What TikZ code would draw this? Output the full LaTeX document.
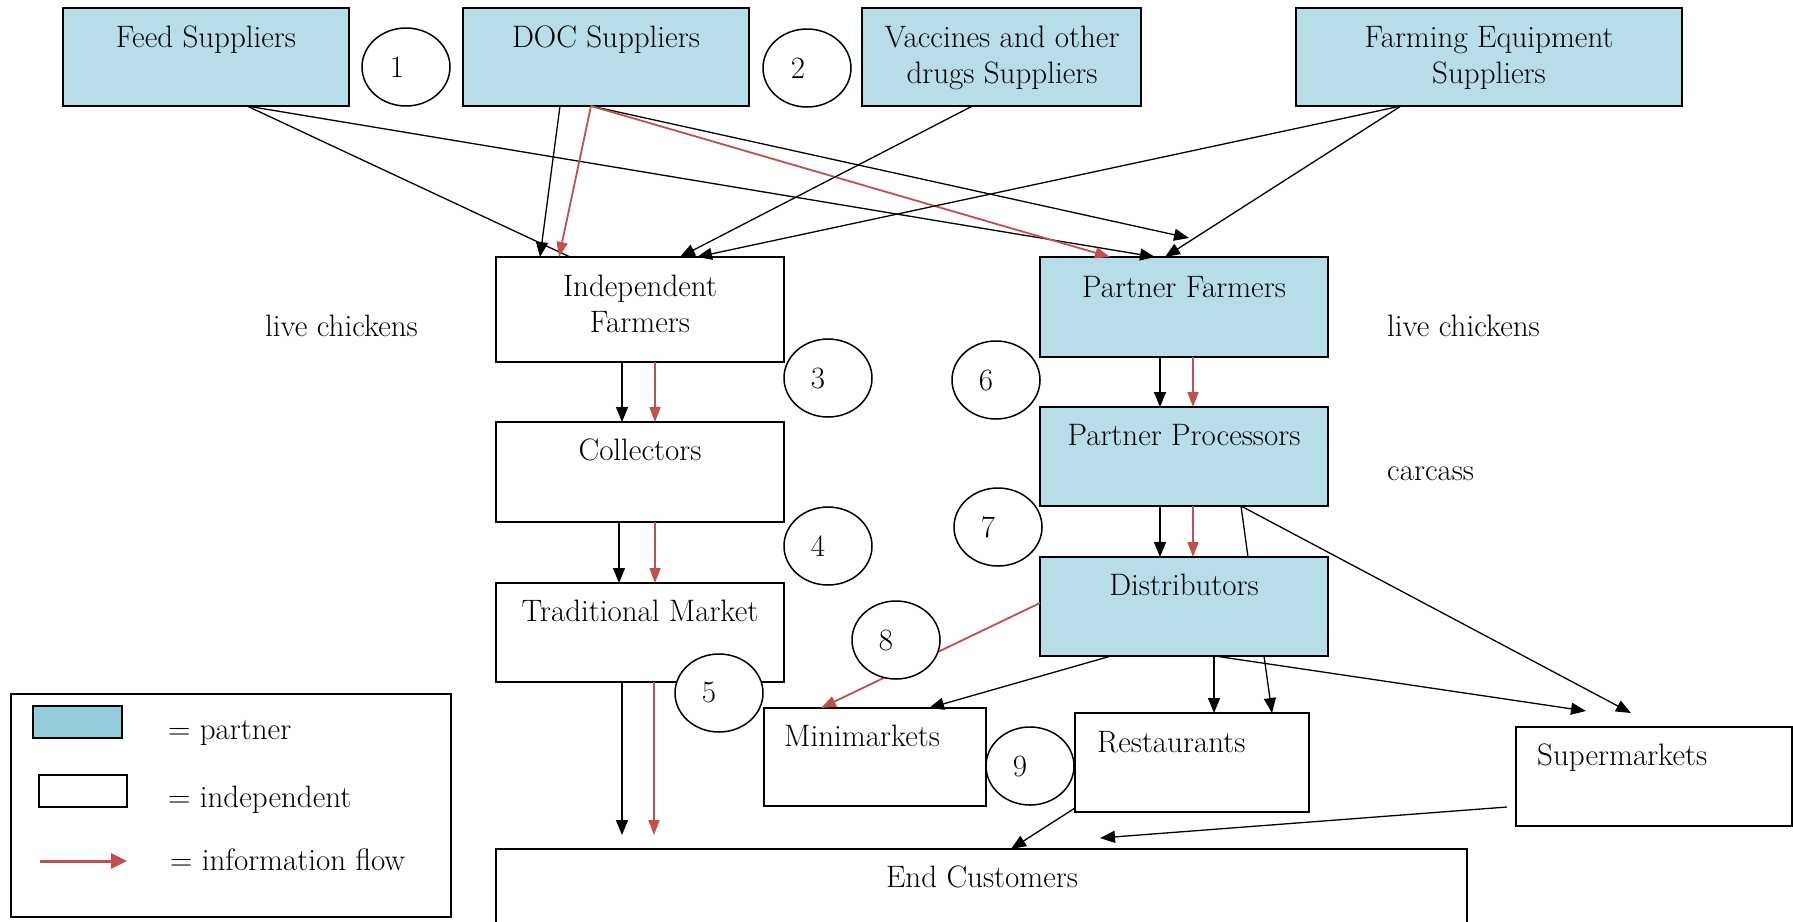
\documentclass[tikz,border=0pt]{standalone}
\usetikzlibrary{arrows.meta,shapes.geometric,calc}
\definecolor{pfill}{HTML}{B7DDE8}
\definecolor{lfill}{HTML}{93CDDD}
\definecolor{infored}{HTML}{C0504D}
\newcommand\mybox[6]{\node[#1, anchor=north west, minimum width={#5-#3}, minimum height={#6-#4}] (#2) at (#3,#4) {};}
\begin{document}
\begin{tikzpicture}[x=1pt,y=-1pt,
  font=\fontsize{31}{36}\selectfont,
  pbox/.style={draw, line width=2pt, fill=pfill, inner sep=0pt, outer sep=0pt},
  ibox/.style={draw, line width=2pt, fill=white, inner sep=0pt, outer sep=0pt},
  lbox/.style={draw, line width=2pt, fill=lfill, inner sep=0pt, outer sep=0pt},
  num/.style={ellipse, draw, line width=1.5pt, fill=white, minimum width=88pt, minimum height=78pt, inner sep=0pt},
  txt/.style={anchor=base, inner sep=0pt, align=center},
  ltxt/.style={anchor=base west, inner sep=0pt},
  arr/.style={line width=1.3pt, -{Triangle[length=15pt,width=12pt]}},
  pline/.style={line width=1.3pt},
  rarr/.style={line width=1.8pt, infored, -{Triangle[length=15pt,width=11pt]}}
]
\useasboundingbox (0,0) rectangle (1793,921);
\clip (0,0) rectangle (1793,921);

% boxes
\mybox{pbox}{feed}{63}{8}{349}{106}
\mybox{pbox}{doc}{463}{8}{749}{106}
\mybox{pbox}{vac}{862}{8}{1141}{106}
\mybox{pbox}{farm}{1296}{8}{1682}{106}
\mybox{ibox}{indep}{496}{257}{784}{362}
\mybox{pbox}{pfarm}{1040}{257}{1328}{357}
\mybox{ibox}{coll}{496}{422}{784}{522}
\mybox{pbox}{pproc}{1040}{407}{1328}{506}
\mybox{ibox}{trad}{496}{583}{784}{682}
\mybox{pbox}{dist}{1040}{557}{1328}{656}
\mybox{ibox}{mini}{764}{708}{986}{806}
\mybox{ibox}{rest}{1075}{713}{1309}{812}
\mybox{ibox}{super}{1516}{727}{1792}{826}
\mybox{ibox}{end}{496}{849}{1467}{960}
\mybox{ibox}{legend}{11}{694}{451}{917}

% box texts (multi-line nodes: base = last line)
\node[txt] (feedT) at (206,47) {Feed Suppliers};
\node[txt] (docT) at (606,47) {DOC Suppliers};
\node[txt] (vacT) at (1002,83) {Vaccines and other\\drugs Suppliers};
\node[txt] (farmT) at (1489,83) {Farming Equipment\\Suppliers};
\node[txt] (indepT) at (640,332) {Independent\\Farmers};
\node[txt] (pfarmT) at (1184,297) {Partner Farmers};
\node[txt] (collT) at (640,460) {Collectors};
\node[txt] (pprocT) at (1184,445) {Partner Processors};
\node[txt] (tradT) at (640,621) {Traditional Market};
\node[txt] (distT) at (1184,595) {Distributors};
\node[ltxt] (miniT) at (784,746) {Minimarkets};
\node[ltxt] (restT) at (1097,752) {Restaurants};
\node[ltxt] (superT) at (1537,765) {Supermarkets};
\node[txt] (endT) at (982,887) {End Customers};
\node[ltxt] (lc1) at (265,336) {live chickens};
\node[ltxt] (lc2) at (1387,336) {live chickens};
\node[ltxt] (carc) at (1387,480) {carcass};

% free ends
\coordinate (dpEnd) at (1189,238);
\coordinate (psEnd) at (1631,713);
\coordinate (dsEnd) at (1586,711);
\coordinate (teB) at (622,835);
\coordinate (teR) at (654,835);
\coordinate (seEnd) at (1100,838);
\coordinate (seStart) at (1507,807);

% supplier connectors
\draw[pline] ([xshift=41pt]feed.south) -- ([xshift=-70pt]indep.north);
\draw[arr] ([xshift=41pt]feed.south) -- ([xshift=-29pt]pfarm.north);
\draw[arr] ([xshift=-46pt]doc.south) -- ([xshift=-100pt]indep.north);
\draw[arr] ([xshift=-15pt]doc.south) -- (dpEnd);
\draw[rarr] ([xshift=-15pt]doc.south) -- ([xshift=-81pt]indep.north);
\draw[rarr] ([xshift=-15pt]doc.south) -- ([xshift=-74pt]pfarm.north);
\draw[arr] ([xshift=-29pt]vac.south) -- ([xshift=40pt]indep.north);
\draw[arr] ([xshift=-88pt]farm.south) -- ([xshift=57pt]indep.north);
\draw[arr] ([xshift=-88pt]farm.south) -- ([xshift=-19pt]pfarm.north);

% vertical chains
\draw[arr] ([xshift=-18pt]indep.south) -- ([xshift=-18pt]coll.north);
\draw[rarr] ([xshift=15pt]indep.south) -- ([xshift=15pt]coll.north);
\draw[arr] ([xshift=-21pt]coll.south) -- ([xshift=-21pt]trad.north);
\draw[rarr] ([xshift=15pt]coll.south) -- ([xshift=15pt]trad.north);
\draw[arr] ([xshift=-18pt]trad.south) -- (teB);
\draw[rarr] ([xshift=14pt]trad.south) -- (teR);
\draw[arr] ([xshift=-24pt]pfarm.south) -- ([xshift=-24pt]pproc.north);
\draw[rarr] ([xshift=9pt]pfarm.south) -- ([xshift=9pt]pproc.north);
\draw[arr] ([xshift=-24pt]pproc.south) -- ([xshift=-24pt]dist.north);
\draw[rarr] ([xshift=9pt]pproc.south) -- ([xshift=9pt]dist.north);
\draw[pline] ([xshift=57pt]pproc.south) -- ([xshift=64pt]dist.north);
\draw[arr] ([xshift=57pt]pproc.south) -- (psEnd);

% distribution
\draw[arr] ([xshift=-73pt]dist.south) -- ([xshift=54pt]mini.north);
\draw[arr] ([xshift=30pt]dist.south) -- ([xshift=22pt]rest.north);
\draw[arr] ([xshift=80pt]dist.south) -- ([xshift=80pt]rest.north);
\draw[arr] ([xshift=31pt]dist.south) -- (dsEnd);
\draw[rarr] ([yshift=3.5pt]dist.west) -- ([xshift=-54pt]mini.north);
\draw[arr] ([yshift=4pt]rest.south west) -- ([xshift=29.5pt]end.north);
\draw[arr] (seStart) -- (seEnd);

% numbered circles
\node[num, label={[xshift=-9pt]center:1}] (c1) at (406,67) {};
\node[num, label={[xshift=-9pt]center:2}] (c2) at (807,68) {};
\node[num, label={[xshift=-10pt]center:3}] (c3) at (828,378) {};
\node[num, label={[xshift=-10pt]center:4}] (c4) at (828,546) {};
\node[num, label={[xshift=-10pt]center:5}] (c5) at (719,693) {};
\node[num, label={[xshift=-10pt]center:6}] (c6) at (996,380) {};
\node[num, label={[xshift=-10pt]center:7}] (c7) at (998,527) {};
\node[num, label={[xshift=-10pt]center:8}] (c8) at (896,640) {};
\node[num, label={[xshift=-10pt]center:9}] (c9) at (1030,766) {};

% legend
\mybox{lbox}{legP}{33}{706}{122}{738}
\mybox{ibox}{legI}{39}{775}{127}{807}
\coordinate (legA1) at (40,861);
\coordinate (legA2) at (127,861);
\draw[infored, line width=3pt, -{Triangle[length=16pt,width=15pt]}] (legA1) -- (legA2);
\node[ltxt] (legPT) at (168,739) {= partner};
\node[ltxt] (legIT) at (168,807) {= independent};
\node[ltxt] (legAT) at (170,870) {= information flow};
\end{tikzpicture}
\end{document}
